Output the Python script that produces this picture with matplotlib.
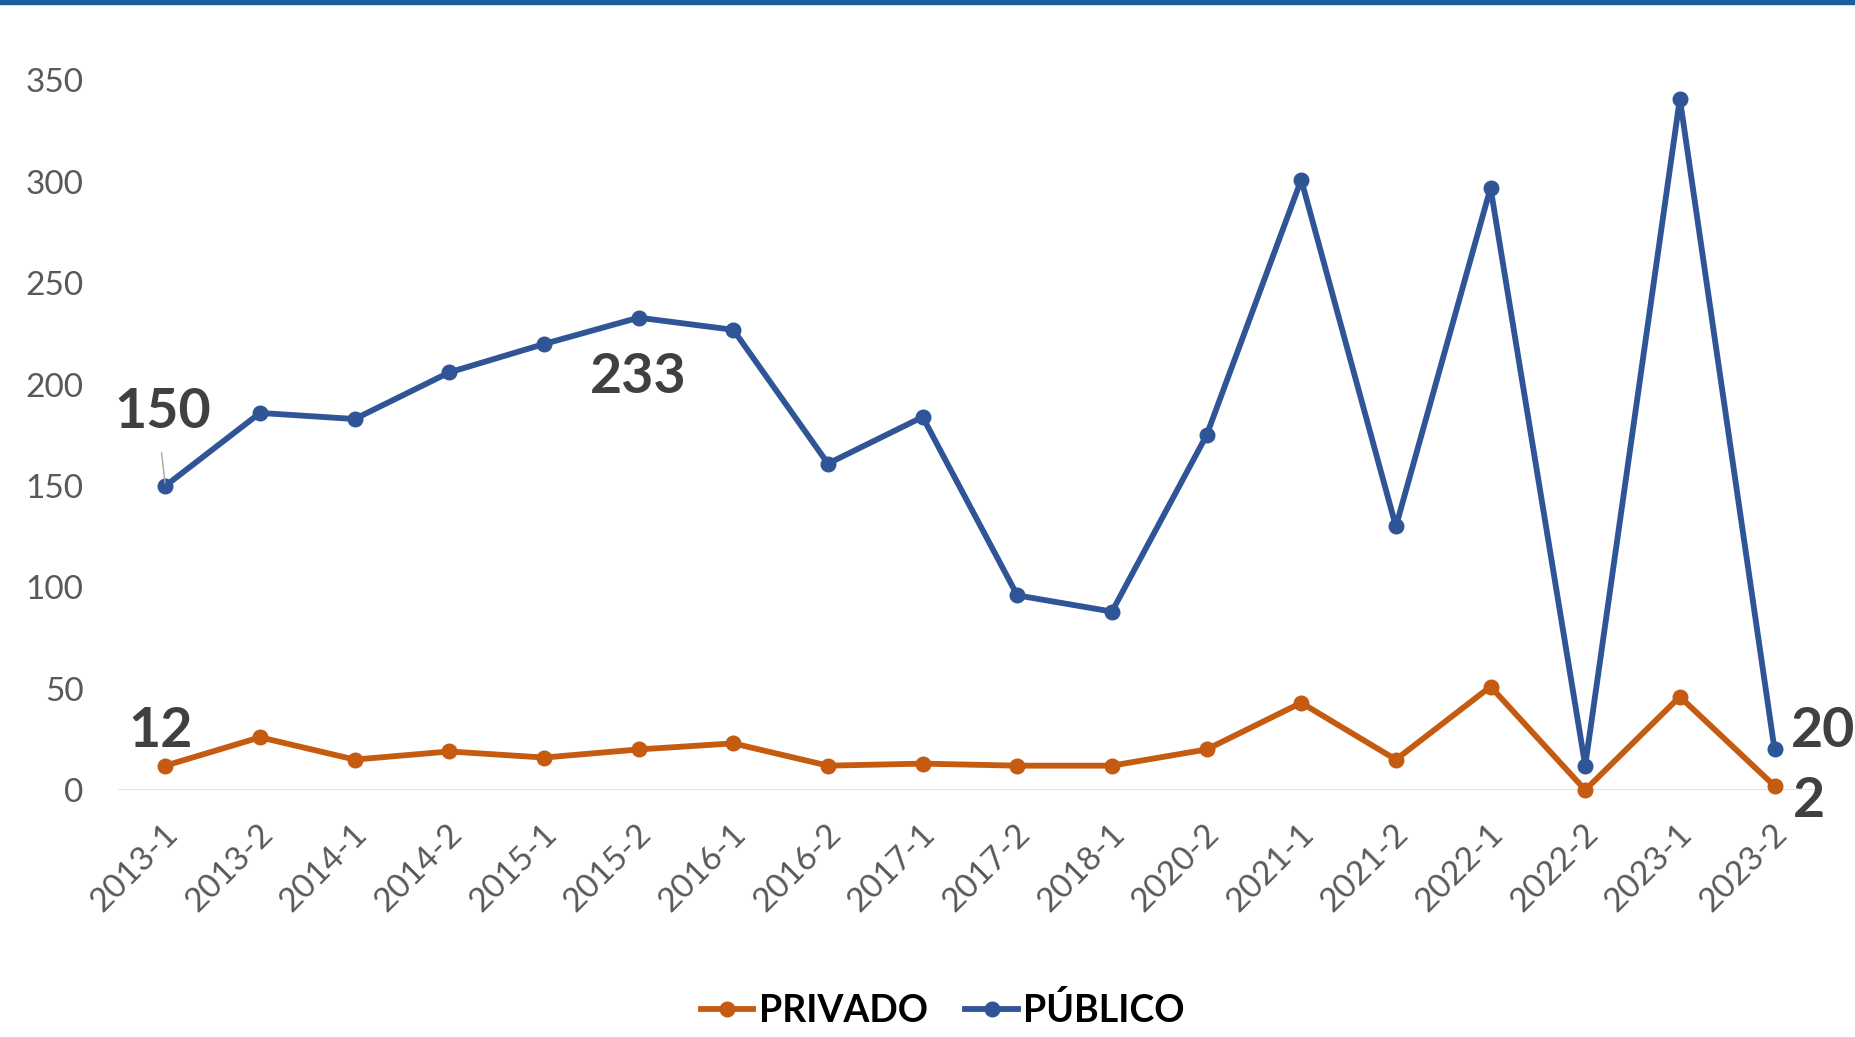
import matplotlib.pyplot as plt
from matplotlib.patches import Rectangle
from matplotlib.transforms import ScaledTranslation

periods = ["2013-1", "2013-2", "2014-1", "2014-2", "2015-1", "2015-2", "2016-1",
           "2016-2", "2017-1", "2017-2", "2018-1", "2020-2", "2021-1", "2021-2",
           "2022-1", "2022-2", "2023-1", "2023-2"]
privado = [12, 26, 15, 19, 16, 20, 23, 12, 13, 12, 12, 20, 43, 15, 51, 0, 46, 2]
publico = [150, 186, 183, 206, 220, 233, 227, 161, 184, 96, 88, 175, 301, 130, 297, 12, 341, 20]
yticks = [0, 50, 100, 150, 200, 250, 300, 350]

c_priv = "#C55A11"
c_pub = "#2F5597"
txt_grey = "#595959"
lbl_grey = "#404040"

plt.rcParams['font.family'] = ['Lato', 'DejaVu Sans']

fig = plt.figure(figsize=(18.56, 10.37), dpi=100)
ax = fig.add_axes([0.0636, 0.2382, 0.918, 0.6842])

x = list(range(len(periods)))
ax.plot(x, privado, color=c_priv, lw=4.2, marker="o", ms=10.5, label="PRIVADO",
        clip_on=False, zorder=3)
ax.plot(x, publico, color=c_pub, lw=4.2, marker="o", ms=10.5, label="PÚBLICO",
        clip_on=False, zorder=3)

ax.set_xlim(-0.5, len(periods) - 0.5)
ax.set_ylim(0, 350)
ax.set_yticks(yticks)
ax.set_xticks(x)
ax.set_xticklabels(periods)
for s in ax.spines.values():
    s.set_visible(False)
ax.axhline(0, color="#D9D9D9", lw=1.8, zorder=1)
ax.tick_params(axis="y", length=0, pad=25, labelsize=24, labelcolor=txt_grey)
ax.tick_params(axis="x", length=0, pad=28, labelsize=24, labelcolor=txt_grey)
shift = ScaledTranslation(8 / 100, 0, fig.dpi_scale_trans)
for lab in ax.get_xticklabels():
    lab.set_rotation(45)
    lab.set_ha("right")
    lab.set_va("center")
    lab.set_rotation_mode("anchor")
    lab.set_transform(lab.get_transform() + shift)

# data labels
lbl_kw = dict(textcoords="offset points", ha="center", va="center",
              fontsize=40, fontweight="bold", color=lbl_grey)
ax.annotate("150", (0, publico[0]), xytext=(-2, 53), **lbl_kw)
ax.annotate("", (0, publico[0]), xytext=(-3, 26), textcoords="offset points",
            arrowprops=dict(arrowstyle="-", color="#A6A6A6", lw=1))
ax.annotate("233", (5, publico[5]), xytext=(0, -43), **lbl_kw)
ax.annotate("12", (0, privado[0]), xytext=(-3.5, 25), **lbl_kw)
ax.annotate("20", (17, publico[17]), xytext=(35, 13), **lbl_kw)
ax.annotate("2", (17, privado[17]), xytext=(25, -11), **lbl_kw)

leg = fig.legend(loc="center", bbox_to_anchor=(0.508, 0.026), ncol=2, frameon=False,
                 prop={"family": "Lato", "weight": "bold", "size": 27},
                 handlelength=1.4, handletextpad=0.15, columnspacing=1.0)

fig.patches.append(Rectangle((0, 1 - 4 / 1037), 1, 4 / 1037, transform=fig.transFigure,
                             color="#1B5E9E", zorder=5))

fig.savefig("out.png", dpi=100)
